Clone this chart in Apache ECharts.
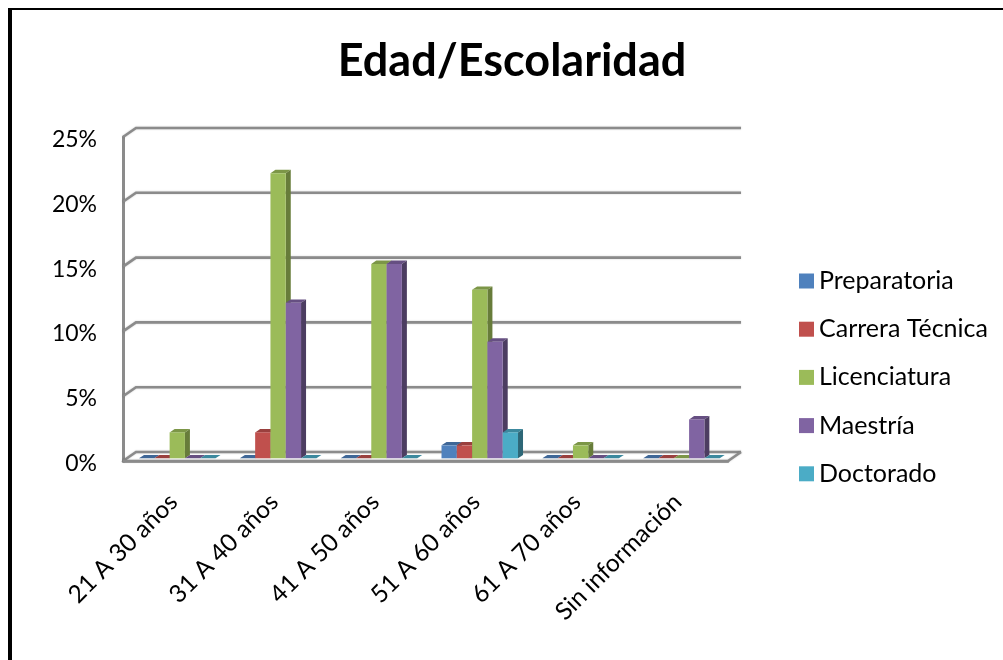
<!DOCTYPE html>
<html><head><meta charset="utf-8">
<style>html,body{margin:0;padding:0;background:#fff}#c{width:1003px;height:660px}</style>
<script src="https://cdn.jsdelivr.net/npm/echarts@6/dist/echarts.min.js"></script>
</head><body><div id="c"></div>
<script>
const categories = ['21 A 30 años','31 A 40 años','41 A 50 años','51 A 60 años','61 A 70 años','Sin información'];
const preparatoria = [0,0,0,1,0,0];
const carrera = [0,2,0,1,0,0];
const licenciatura = [2,22,15,13,1,0];
const maestria = [0,12,15,9,0,3];
const doctorado = [0,0,0,2,0,0];
const yTicks = [0,5,10,15,20,25];
const seriesNames = ['Preparatoria','Carrera Técnica','Licenciatura','Maestría','Doctorado'];
const seriesValues = [preparatoria,carrera,licenciatura,maestria,doctorado];
const front = ['#4f81bd','#c0504d','#9bbb59','#8064a2','#4bacc6'];
const topc = ['#3f6797','#9a403e','#7c9647','#664f82','#3c899e'];
const side = ['#2f4d71','#73302e','#677c3a','#4c3d61','#2d6777'];

const WALL_DX=13, WALL_DY=-9, BASE_DX=3.85, BASE_DY=-2.7, BAR_W=15.3, BAR_DX=5, BAR_DY=-3.4;
const GRID='#8b8b8b';
const lineStyle={stroke:GRID,lineWidth:2.6,fill:null,shadowBlur:2,shadowColor:'rgba(0,0,0,0.2)'};

function wall(params,api){
  const v=api.value(0), band=api.size([1,0])[0];
  const y=api.coord([0,v])[1];
  const x0=api.coord([0,v])[0]-band/2, x1=api.coord([5,v])[0]+band/2;
  const kids=[{type:'polyline',shape:{points:[[x0,y],[x0+WALL_DX,y+WALL_DY],[x1+WALL_DX,y+WALL_DY]]},style:lineStyle}];
  if(v===0){
    kids.push({type:'polyline',shape:{points:[[x0,y],[x1,y],[x1+WALL_DX,y+WALL_DY]]},style:lineStyle});
  }
  return {type:'group',children:kids};
}
function bar(si){
  return function(params,api){
    const cat=api.value(0), val=api.value(1);
    const c=api.coord([cat,val]), b=api.coord([cat,0]);
    const x=c[0]+BASE_DX+(si-2.5)*BAR_W, yT=c[1]+BASE_DY, yB=b[1]+BASE_DY, w=BAR_W;
    const kids=[];
    kids.push({type:'polygon',shape:{points:[[x,yT],[x+BAR_DX,yT+BAR_DY],[x+w+BAR_DX,yT+BAR_DY],[x+w,yT]]},style:{fill:topc[si]}});
    if(val>0){
      kids.push({type:'polygon',shape:{points:[[x+w,yT],[x+w+BAR_DX,yT+BAR_DY],[x+w+BAR_DX,yB+BAR_DY],[x+w,yB]]},style:{fill:side[si]}});
      kids.push({type:'rect',shape:{x:x,y:yT,width:w,height:yB-yT},style:{fill:front[si]}});
    }
    return {type:'group',children:kids};
  };
}
const series=[{type:'custom',name:'wall',silent:true,z:1,renderItem:wall,data:yTicks.map(v=>[v]),encode:{y:0}}];
seriesNames.forEach((n,si)=>{
  series.push({type:'custom',name:n,z:2+si,renderItem:bar(si),itemStyle:{color:front[si]},
    encode:{x:0,y:1},data:seriesValues[si].map((v,i)=>[i,v])});
});
const FONT='Lato';
const chart=echarts.init(document.getElementById('c'),null,{renderer:'canvas'});
chart.setOption({
  animation:false,
  backgroundColor:'#fff',
  textStyle:{fontFamily:FONT},
  title:{text:'Edad/Escolaridad',left:507,top:34,textAlign:'center',
    textStyle:{fontFamily:FONT,fontWeight:'bold',fontSize:45,color:'#000'}},
  legend:{data:seriesNames,orient:'vertical',left:799,top:268,padding:0,itemWidth:15,itemHeight:15,itemGap:22.2,icon:'rect',
    textStyle:{fontFamily:FONT,fontSize:25,color:'#000',padding:0,lineHeight:26}},
  grid:{left:123,top:137,width:605,height:324,containLabel:false},
  xAxis:{type:'category',data:categories,
    axisLine:{show:true,onZero:false,lineStyle:{color:GRID,width:2.6}},axisTick:{show:false},
    splitLine:{show:false},
    axisLabel:{interval:0,rotate:45,margin:37,fontFamily:FONT,fontSize:24.5,color:'#000'}},
  yAxis:{type:'value',min:0,max:25,interval:5,
    axisLine:{show:true,lineStyle:{color:GRID,width:3}},axisTick:{show:false},splitLine:{show:false},
    axisLabel:{margin:26,fontFamily:FONT,fontSize:23,color:'#000',verticalAlign:'top',lineHeight:5,formatter:'{value}%'}},
  series:series,
  graphic:[
    {type:'rect',z:100,shape:{x:8,y:8,width:4,height:652},style:{fill:'#000'}},
    {type:'rect',z:100,shape:{x:8,y:8,width:995,height:2},style:{fill:'#000'}}
  ]
});
</script></body></html>
